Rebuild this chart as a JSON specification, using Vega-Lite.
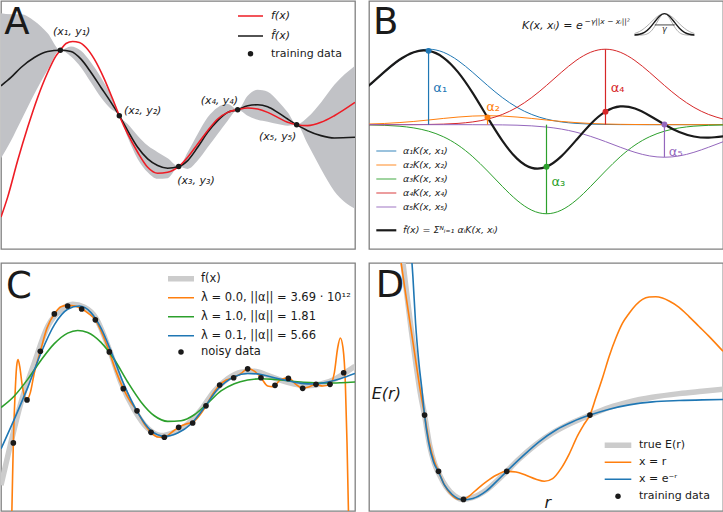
{
"$schema": "https://vega.github.io/schema/vega-lite/v6.json",
"padding": 0,
"spacing": 14,
"columns": 2,
"bounds": "flush",
"background": "white",
"config": {"view": {"stroke": "#808080", "strokeWidth": 1.3}, "font": "DejaVu Sans", "legend": {"padding": 0, "labelColor": "#1a1a1a", "labelFont": "DejaVu Sans", "titlePadding": 0}},
"resolve": {"scale": {"color": "independent", "shape": "independent", "strokeWidth": "independent", "stroke": "independent", "fill": "independent"}},
"datasets": {
"aBand": [{"x":0,"lo":37,"hi":473},{"x":30,"lo":40,"hi":420},{"x":60,"lo":40,"hi":360},{"x":100,"lo":60,"hi":280},{"x":140,"lo":97,"hi":207},{"x":178,"lo":148,"hi":148},{"x":210,"lo":137,"hi":167},{"x":240,"lo":150,"hi":200},{"x":270,"lo":185,"hi":245},{"x":300,"lo":230,"hi":290},{"x":330,"lo":285,"hi":325},{"x":355,"lo":345,"hi":345},{"x":380,"lo":370,"hi":410},{"x":410,"lo":405,"hi":475},{"x":440,"lo":435,"hi":515},{"x":470,"lo":455,"hi":535},{"x":500,"lo":473,"hi":533},{"x":533,"lo":498,"hi":498},{"x":560,"lo":455,"hi":505},{"x":590,"lo":400,"hi":480},{"x":620,"lo":350,"hi":440},{"x":650,"lo":320,"hi":400},{"x":680,"lo":310,"hi":360},{"x":710,"lo":327,"hi":327},{"x":740,"lo":285,"hi":345},{"x":770,"lo":267,"hi":357},{"x":800,"lo":273,"hi":363},{"x":830,"lo":300,"hi":370},{"x":860,"lo":335,"hi":375},{"x":887,"lo":372,"hi":372},{"x":920,"lo":350,"hi":430},{"x":960,"lo":305,"hi":505},{"x":1000,"lo":252,"hi":572},{"x":1062,"lo":195,"hi":625}],
"aLines": [{"s":"k","x":0,"y":255},{"s":"k","x":30,"y":230},{"s":"k","x":60,"y":200},{"s":"k","x":100,"y":170},{"s":"k","x":140,"y":152},{"s":"k","x":178,"y":148},{"s":"k","x":210,"y":152},{"s":"k","x":240,"y":175},{"s":"k","x":270,"y":215},{"s":"k","x":300,"y":260},{"s":"k","x":330,"y":305},{"s":"k","x":355,"y":345},{"s":"k","x":380,"y":390},{"s":"k","x":410,"y":440},{"s":"k","x":440,"y":475},{"s":"k","x":470,"y":495},{"s":"k","x":500,"y":503},{"s":"k","x":533,"y":498},{"s":"k","x":560,"y":480},{"s":"k","x":590,"y":440},{"s":"k","x":620,"y":395},{"s":"k","x":650,"y":360},{"s":"k","x":680,"y":335},{"s":"k","x":710,"y":327},{"s":"k","x":740,"y":315},{"s":"k","x":770,"y":312},{"s":"k","x":800,"y":318},{"s":"k","x":830,"y":335},{"s":"k","x":860,"y":355},{"s":"k","x":887,"y":372},{"s":"k","x":920,"y":390},{"s":"k","x":960,"y":405},{"s":"k","x":1000,"y":412},{"s":"k","x":1062,"y":410},
{"s":"r","x":0,"y":650},{"s":"r","x":20,"y":590},{"s":"r","x":50,"y":480},{"s":"r","x":80,"y":380},{"s":"r","x":110,"y":290},{"s":"r","x":140,"y":215},{"s":"r","x":165,"y":165},{"s":"r","x":178,"y":148},{"s":"r","x":195,"y":128},{"s":"r","x":215,"y":122},{"s":"r","x":235,"y":125},{"s":"r","x":255,"y":140},{"s":"r","x":280,"y":175},{"s":"r","x":310,"y":235},{"s":"r","x":335,"y":295},{"s":"r","x":355,"y":345},{"s":"r","x":380,"y":400},{"s":"r","x":410,"y":455},{"s":"r","x":440,"y":500},{"s":"r","x":470,"y":518},{"s":"r","x":500,"y":515},{"s":"r","x":533,"y":498},{"s":"r","x":560,"y":470},{"s":"r","x":590,"y":430},{"s":"r","x":620,"y":390},{"s":"r","x":650,"y":355},{"s":"r","x":680,"y":335},{"s":"r","x":710,"y":327},{"s":"r","x":740,"y":322},{"s":"r","x":770,"y":325},{"s":"r","x":800,"y":335},{"s":"r","x":830,"y":350},{"s":"r","x":860,"y":365},{"s":"r","x":887,"y":372},{"s":"r","x":920,"y":375},{"s":"r","x":960,"y":365},{"s":"r","x":1000,"y":345},{"s":"r","x":1062,"y":305}],
"aPts": [{"s":"p","x":178,"y":148},{"s":"p","x":355,"y":345},{"s":"p","x":533,"y":498},{"s":"p","x":710,"y":327},{"s":"p","x":887,"y":372}],
"bK": [{"x":-24.6,"k1":81.7,"k2":1.0,"k3":-0.3,"k4":0,"k5":0,"f":82.4},{"x":19.8,"k1":118.0,"k2":2.0,"k3":-0.8,"k4":0,"k5":0,"f":119.2},{"x":64.1,"k1":157.1,"k2":3.6,"k3":-1.9,"k4":0,"k5":0,"f":158.8},{"x":108.4,"k1":192.8,"k2":6.2,"k3":-4.5,"k4":0.1,"k5":0,"f":194.6},{"x":152.7,"k1":217.9,"k2":9.7,"k3":-9.8,"k4":0.2,"k5":0,"f":218.0},{"x":197,"k1":227,"k2":14.0,"k3":-19.6,"k4":0.6,"k5":0,"f":222.0},{"x":241.3,"k1":217.9,"k2":18.7,"k3":-36.2,"k4":1.6,"k5":0,"f":202.0},{"x":285.6,"k1":192.8,"k2":22.9,"k3":-61.5,"k4":3.8,"k5":0,"f":158.0},{"x":330,"k1":157.1,"k2":25.9,"k3":-96.5,"k4":8.3,"k5":-0.1,"f":94.7},{"x":374.3,"k1":118.0,"k2":27,"k3":-139.4,"k4":16.6,"k5":-0.3,"f":21.9},{"x":418.6,"k1":81.7,"k2":25.9,"k3":-185.5,"k4":30.6,"k5":-0.7,"f":-48.0},{"x":462.9,"k1":52.1,"k2":22.9,"k3":-227.6,"k4":52.1,"k5":-1.6,"f":-102.1},{"x":507.2,"k1":30.6,"k2":18.7,"k3":-257.3,"k4":81.7,"k5":-3.6,"f":-129.9},{"x":551.5,"k1":16.6,"k2":14.0,"k3":-268,"k4":118.0,"k5":-7.2,"f":-126.6},{"x":595.8,"k1":8.3,"k2":9.7,"k3":-257.3,"k4":157.1,"k5":-13.2,"f":-95.4},{"x":640.1,"k1":3.8,"k2":6.2,"k3":-227.6,"k4":192.8,"k5":-22.5,"f":-47.3},{"x":684.4,"k1":1.6,"k2":3.6,"k3":-185.5,"k4":217.9,"k5":-35.3,"f":2.3},{"x":728.8,"k1":0.6,"k2":2.0,"k3":-139.4,"k4":227,"k5":-51.0,"f":39.2},{"x":773.1,"k1":0.2,"k2":1.0,"k3":-96.5,"k4":217.9,"k5":-67.8,"f":54.8},{"x":817.4,"k1":0.1,"k2":0.5,"k3":-61.5,"k4":192.8,"k5":-83.2,"f":48.7},{"x":861.7,"k1":0,"k2":0.2,"k3":-36.2,"k4":157.1,"k5":-94.1,"f":27.0},{"x":906,"k1":0,"k2":0.1,"k3":-19.6,"k4":118.0,"k5":-98,"f":0.5},{"x":950.3,"k1":0,"k2":0,"k3":-9.8,"k4":81.7,"k5":-94.1,"f":-22.2},{"x":994.6,"k1":0,"k2":0,"k3":-4.5,"k4":52.1,"k5":-83.2,"f":-35.6},{"x":1038.9,"k1":0,"k2":0,"k3":-1.9,"k4":30.6,"k5":-67.8,"f":-39.1},{"x":1083.3,"k1":0,"k2":0,"k3":-0.8,"k4":16.6,"k5":-51.0,"f":-35.2}],
"bS": [{"k":"k1","x":197,"z":0,"a":227,"f":222,"t":"α₁","tx":232,"ty":110},{"k":"k2","x":374.3,"z":0,"a":27,"f":21.9,"t":"α₂","tx":391,"ty":54},{"k":"k3","x":551.5,"z":0,"a":-268,"f":-126.6,"t":"α₃","tx":587,"ty":-173},{"k":"k4","x":728.8,"z":0,"a":227,"f":39.2,"t":"α₄","tx":765,"ty":110},{"k":"k5","x":906,"z":0,"a":-98,"f":0.5,"t":"α₅","tx":940,"ty":-83}],
"bIcon": [{"x":816,"w":274.2,"m":269.7,"n":269},{"x":831,"w":280.2,"m":271.9,"n":269.2},{"x":846,"w":290.1,"m":277.8,"n":270.6},{"x":861,"w":303.5,"m":290.1,"n":277},{"x":876,"w":318.1,"m":308.4,"n":294.6},{"x":891,"w":329.6,"m":326.4,"n":320.5},{"x":906,"w":334,"m":334,"n":334},{"x":921,"w":329.6,"m":326.4,"n":320.5},{"x":936,"w":318.1,"m":308.4,"n":294.6},{"x":951,"w":303.5,"m":290.1,"n":277},{"x":966,"w":290.1,"m":277.8,"n":270.6},{"x":981,"w":280.2,"m":271.9,"n":269.2},{"x":996,"w":274.2,"m":269.7,"n":269}],
"cF": [{"s":"f","x":0,"y":690},{"s":"f","x":30,"y":560},{"s":"f","x":60,"y":440},{"s":"f","x":100,"y":320},{"s":"f","x":140,"y":210},{"s":"f","x":180,"y":160},{"s":"f","x":215,"y":143},{"s":"f","x":250,"y":152},{"s":"f","x":285,"y":185},{"s":"f","x":325,"y":280},{"s":"f","x":360,"y":380},{"s":"f","x":400,"y":462},{"s":"f","x":440,"y":518},{"s":"f","x":480,"y":540},{"s":"f","x":520,"y":530},{"s":"f","x":560,"y":505},{"s":"f","x":600,"y":462},{"s":"f","x":640,"y":405},{"s":"f","x":680,"y":368},{"s":"f","x":720,"y":348},{"s":"f","x":760,"y":345},{"s":"f","x":800,"y":358},{"s":"f","x":840,"y":373},{"s":"f","x":880,"y":384},{"s":"f","x":920,"y":389},{"s":"f","x":960,"y":384},{"s":"f","x":1000,"y":370},{"s":"f","x":1040,"y":345},{"s":"f","x":1062,"y":330}],
"cB": [{"s":"b","x":0,"y":580},{"s":"b","x":40,"y":490},{"s":"b","x":80,"y":395},{"s":"b","x":120,"y":290},{"s":"b","x":160,"y":205},{"s":"b","x":200,"y":158},{"s":"b","x":235,"y":148},{"s":"b","x":270,"y":168},{"s":"b","x":300,"y":215},{"s":"b","x":330,"y":285},{"s":"b","x":370,"y":388},{"s":"b","x":410,"y":470},{"s":"b","x":450,"y":525},{"s":"b","x":490,"y":542},{"s":"b","x":530,"y":532},{"s":"b","x":570,"y":505},{"s":"b","x":610,"y":455},{"s":"b","x":650,"y":400},{"s":"b","x":700,"y":362},{"s":"b","x":740,"y":352},{"s":"b","x":780,"y":355},{"s":"b","x":820,"y":365},{"s":"b","x":860,"y":374},{"s":"b","x":900,"y":382},{"s":"b","x":940,"y":384},{"s":"b","x":980,"y":378},{"s":"b","x":1020,"y":367},{"s":"b","x":1062,"y":352}],
"cG": [{"s":"g","x":0,"y":455},{"s":"g","x":40,"y":420},{"s":"g","x":80,"y":370},{"s":"g","x":120,"y":312},{"s":"g","x":160,"y":262},{"s":"g","x":200,"y":230},{"s":"g","x":230,"y":222},{"s":"g","x":260,"y":228},{"s":"g","x":300,"y":258},{"s":"g","x":340,"y":310},{"s":"g","x":380,"y":378},{"s":"g","x":420,"y":438},{"s":"g","x":460,"y":480},{"s":"g","x":500,"y":497},{"s":"g","x":540,"y":495},{"s":"g","x":580,"y":477},{"s":"g","x":620,"y":442},{"s":"g","x":660,"y":405},{"s":"g","x":700,"y":383},{"s":"g","x":740,"y":372},{"s":"g","x":780,"y":368},{"s":"g","x":820,"y":370},{"s":"g","x":860,"y":374},{"s":"g","x":900,"y":378},{"s":"g","x":940,"y":380},{"s":"g","x":980,"y":381},{"s":"g","x":1020,"y":380},{"s":"g","x":1062,"y":378}],
"cO": [{"s":"o","x":30,"y":900},{"s":"o","x":34,"y":700},{"s":"o","x":37,"y":562},{"s":"o","x":42,"y":420},{"s":"o","x":47,"y":330},{"s":"o","x":51,"y":310},{"s":"o","x":56,"y":330},{"s":"o","x":64,"y":390},{"s":"o","x":72,"y":425},{"s":"o","x":78,"y":432},{"s":"o","x":88,"y":410},{"s":"o","x":100,"y":350},{"s":"o","x":118,"y":285},{"s":"o","x":138,"y":215},{"s":"o","x":160,"y":172},{"s":"o","x":180,"y":150},{"s":"o","x":200,"y":146},{"s":"o","x":222,"y":148},{"s":"o","x":242,"y":157},{"s":"o","x":262,"y":170},{"s":"o","x":283,"y":190},{"s":"o","x":305,"y":235},{"s":"o","x":325,"y":287},{"s":"o","x":345,"y":345},{"s":"o","x":367,"y":398},{"s":"o","x":388,"y":437},{"s":"o","x":408,"y":465},{"s":"o","x":430,"y":505},{"s":"o","x":450,"y":530},{"s":"o","x":470,"y":544},{"s":"o","x":490,"y":545},{"s":"o","x":512,"y":530},{"s":"o","x":533,"y":515},{"s":"o","x":555,"y":505},{"s":"o","x":575,"y":500},{"s":"o","x":595,"y":480},{"s":"o","x":615,"y":450},{"s":"o","x":635,"y":415},{"s":"o","x":656,"y":387},{"s":"o","x":676,"y":372},{"s":"o","x":698,"y":365},{"s":"o","x":720,"y":352},{"s":"o","x":740,"y":338},{"s":"o","x":760,"y":345},{"s":"o","x":780,"y":365},{"s":"o","x":800,"y":390},{"s":"o","x":815,"y":392},{"s":"o","x":840,"y":370},{"s":"o","x":862,"y":365},{"s":"o","x":885,"y":385},{"s":"o","x":905,"y":397},{"s":"o","x":925,"y":392},{"s":"o","x":945,"y":385},{"s":"o","x":965,"y":390},{"s":"o","x":987,"y":385},{"s":"o","x":1000,"y":350},{"s":"o","x":1010,"y":275},{"s":"o","x":1018,"y":245},{"s":"o","x":1026,"y":275},{"s":"o","x":1033,"y":380},{"s":"o","x":1038,"y":560},{"s":"o","x":1043,"y":800}],
"cP": [{"s":"p","x":37,"y":562},{"s":"p","x":78,"y":432},{"s":"p","x":118,"y":285},{"s":"p","x":160,"y":172},{"s":"p","x":200,"y":148},{"s":"p","x":242,"y":157},{"s":"p","x":283,"y":190},{"s":"p","x":325,"y":287},{"s":"p","x":367,"y":398},{"s":"p","x":408,"y":465},{"s":"p","x":450,"y":530},{"s":"p","x":490,"y":545},{"s":"p","x":533,"y":515},{"s":"p","x":575,"y":502},{"s":"p","x":615,"y":450},{"s":"p","x":656,"y":387},{"s":"p","x":698,"y":365},{"s":"p","x":740,"y":338},{"s":"p","x":780,"y":365},{"s":"p","x":822,"y":388},{"s":"p","x":862,"y":367},{"s":"p","x":905,"y":397},{"s":"p","x":945,"y":385},{"s":"p","x":987,"y":385},{"s":"p","x":1028,"y":350}],
"dF": [{"s":"t","x":118,"y":0},{"s":"t","x":130,"y":100},{"s":"t","x":145,"y":220},{"s":"t","x":160,"y":330},{"s":"t","x":172,"y":410},{"s":"t","x":185,"y":478},{"s":"t","x":200,"y":568},{"s":"t","x":215,"y":625},{"s":"t","x":228,"y":655},{"s":"t","x":250,"y":695},{"s":"t","x":275,"y":722},{"s":"t","x":300,"y":733},{"s":"t","x":330,"y":727},{"s":"t","x":370,"y":705},{"s":"t","x":420,"y":660},{"s":"t","x":470,"y":610},{"s":"t","x":520,"y":567},{"s":"t","x":570,"y":532},{"s":"t","x":620,"y":505},{"s":"t","x":682,"y":478},{"s":"t","x":740,"y":455},{"s":"t","x":800,"y":438},{"s":"t","x":870,"y":424},{"s":"t","x":950,"y":413},{"s":"t","x":1020,"y":406},{"s":"t","x":1082,"y":400}],
"dB": [{"s":"b","x":146,"y":0},{"s":"b","x":150,"y":60},{"s":"b","x":158,"y":200},{"s":"b","x":168,"y":320},{"s":"b","x":177,"y":400},{"s":"b","x":185,"y":478},{"s":"b","x":197,"y":560},{"s":"b","x":212,"y":620},{"s":"b","x":227,"y":650},{"s":"b","x":245,"y":690},{"s":"b","x":268,"y":718},{"s":"b","x":300,"y":734},{"s":"b","x":330,"y":730},{"s":"b","x":370,"y":708},{"s":"b","x":400,"y":680},{"s":"b","x":432,"y":648},{"s":"b","x":480,"y":602},{"s":"b","x":530,"y":558},{"s":"b","x":580,"y":523},{"s":"b","x":630,"y":498},{"s":"b","x":682,"y":478},{"s":"b","x":740,"y":460},{"s":"b","x":800,"y":447},{"s":"b","x":870,"y":438},{"s":"b","x":950,"y":434},{"s":"b","x":1020,"y":432},{"s":"b","x":1082,"y":431}],
"dO": [{"s":"o","x":112,"y":0},{"s":"o","x":125,"y":90},{"s":"o","x":140,"y":190},{"s":"o","x":155,"y":290},{"s":"o","x":170,"y":390},{"s":"o","x":185,"y":478},{"s":"o","x":200,"y":565},{"s":"o","x":215,"y":620},{"s":"o","x":227,"y":648},{"s":"o","x":245,"y":690},{"s":"o","x":265,"y":718},{"s":"o","x":285,"y":732},{"s":"o","x":302,"y":733},{"s":"o","x":320,"y":722},{"s":"o","x":345,"y":700},{"s":"o","x":370,"y":680},{"s":"o","x":400,"y":660},{"s":"o","x":432,"y":648},{"s":"o","x":460,"y":650},{"s":"o","x":490,"y":660},{"s":"o","x":520,"y":672},{"s":"o","x":545,"y":678},{"s":"o","x":570,"y":670},{"s":"o","x":595,"y":640},{"s":"o","x":620,"y":595},{"s":"o","x":645,"y":540},{"s":"o","x":665,"y":505},{"s":"o","x":682,"y":478},{"s":"o","x":700,"y":425},{"s":"o","x":720,"y":365},{"s":"o","x":740,"y":300},{"s":"o","x":760,"y":245},{"s":"o","x":780,"y":200},{"s":"o","x":800,"y":170},{"s":"o","x":820,"y":145},{"s":"o","x":840,"y":128},{"s":"o","x":860,"y":121},{"s":"o","x":880,"y":120},{"s":"o","x":900,"y":124},{"s":"o","x":920,"y":133},{"s":"o","x":950,"y":152},{"s":"o","x":980,"y":180},{"s":"o","x":1010,"y":210},{"s":"o","x":1040,"y":240},{"s":"o","x":1082,"y":285}],
"dP": [{"s":"p","x":185,"y":478},{"s":"p","x":227,"y":648},{"s":"p","x":302,"y":733},{"s":"p","x":432,"y":648},{"s":"p","x":682,"y":478}]
},
"concat": [
{"width": 354, "height": 248,
 "encoding": {"x": {"field": "x", "type": "quantitative", "scale": {"domain": [0, 1062], "nice": false, "zero": false}, "axis": null},
   "y": {"field": "y", "type": "quantitative", "scale": {"domain": [0, 746], "reverse": true, "nice": false, "zero": false}, "axis": null}},
 "layer": [
  {"data": {"name": "aBand"}, "mark": {"type": "area", "color": "#c1c2c6", "clip": true, "interpolate": "monotone"},
   "encoding": {"y": {"field": "lo", "type": "quantitative", "scale": {"domain": [0, 746], "reverse": true, "nice": false, "zero": false}, "axis": null}, "y2": {"field": "hi"}}},
  {"data": {"name": "aLines"}, "mark": {"type": "line", "clip": true, "strokeWidth": 1.6, "interpolate": "monotone"},
   "encoding": {"color": {"field": "s", "type": "nominal", "sort": ["r", "k"], "scale": {"domain": ["r", "k"], "range": ["#ee1c25", "#1a1a1a"]},
     "legend": {"orient": "none", "legendX": 236, "legendY": 5, "title": null, "symbolType": "stroke", "symbolSize": 625, "symbolStrokeWidth": 1.5, "clipHeight": 20, "labelOffset": 7, "rowPadding": 0, "labelFontSize": 11, "labelFontStyle": "italic", "labelExpr": "datum.label == 'r' ? 'f(x)' : 'f̂(x)'"}}}},
  {"data": {"name": "aPts"}, "mark": {"type": "point", "filled": true, "size": 30, "opacity": 1, "color": "#1a1a1a"},
   "encoding": {"shape": {"field": "s", "type": "nominal", "scale": {"domain": ["p"], "range": ["circle"]},
     "legend": {"orient": "none", "legendX": 244, "legendY": 47.2, "title": null, "symbolSize": 30, "symbolFillColor": "#1a1a1a", "symbolStrokeColor": "#1a1a1a", "labelOffset": 15, "labelFontSize": 11, "labelExpr": "'training data'"}}}},
  {"data": {"values": [{"x": 212, "y": 92, "t": "(x₁, y₁)"}, {"x": 425, "y": 332, "t": "(x₂, y₂)"}, {"x": 585, "y": 540, "t": "(x₃, y₃)"}, {"x": 655, "y": 300, "t": "(x₄, y₄)"}, {"x": 830, "y": 410, "t": "(x₅, y₅)"}]},
   "mark": {"type": "text", "fontSize": 11, "fontStyle": "italic", "color": "#1a1a1a"}, "encoding": {"text": {"field": "t"}}},
  {"data": {"values": [{"x": 10, "y": 100, "t": "A"}]}, "mark": {"type": "text", "fontSize": 37, "align": "left", "baseline": "alphabetic", "color": "#1a1a1a"}, "encoding": {"text": {"field": "t"}}}
 ]},
{"width": 354, "height": 248,
 "encoding": {"x": {"field": "x", "type": "quantitative", "scale": {"domain": [18, 1082], "nice": false, "zero": false}, "axis": null},
   "y": {"field": "y", "type": "quantitative", "scale": {"domain": [-374, 372], "nice": false, "zero": false}, "axis": null}},
 "layer": [
  {"data": {"name": "bK"}, "transform": [{"fold": ["k1", "k2", "k3", "k4", "k5"], "as": ["key", "y"]}],
   "mark": {"type": "line", "clip": true, "strokeWidth": 1, "interpolate": "natural"},
   "encoding": {"color": {"field": "key", "type": "nominal", "scale": {"domain": ["k1", "k2", "k3", "k4", "k5"], "range": ["#1f77b4", "#ff7f0e", "#2ca02c", "#d62728", "#9467bd"]},
     "legend": {"orient": "none", "legendX": 6.3, "legendY": 143.25, "title": null, "symbolType": "stroke", "symbolSize": 400, "symbolStrokeWidth": 1.5, "symbolOpacity": 0.6, "clipHeight": 13.5, "labelOffset": 5.7, "rowPadding": 0, "labelFontSize": 9.5, "labelFontStyle": "italic",
       "labelExpr": "datum.label == 'k1' ? 'α₁K(x, x₁)' : datum.label == 'k2' ? 'α₂K(x, x₂)' : datum.label == 'k3' ? 'α₃K(x, x₃)' : datum.label == 'k4' ? 'α₄K(x, x₄)' : 'α₅K(x, x₅)'"}}}},
  {"data": {"name": "bS"}, "mark": {"type": "rule", "strokeWidth": 1.2},
   "encoding": {"y": {"field": "z", "type": "quantitative"}, "y2": {"field": "a"},
    "stroke": {"field": "k", "type": "nominal", "scale": {"domain": ["k1", "k2", "k3", "k4", "k5"], "range": ["#1f77b4", "#ff7f0e", "#2ca02c", "#d62728", "#9467bd"]}, "legend": null}}},
  {"data": {"name": "bK"}, "transform": [{"fold": ["f"], "as": ["key", "y"]}],
   "mark": {"type": "line", "clip": true, "color": "#1a1a1a", "interpolate": "natural"},
   "encoding": {"strokeWidth": {"field": "key", "type": "ordinal", "scale": {"type": "ordinal", "domain": ["f"], "range": [2.2]},
     "legend": {"orient": "none", "legendX": 5.8, "legendY": 217.8, "title": null, "symbolType": "stroke", "symbolSize": 400, "symbolStrokeColor": "#1a1a1a", "labelOffset": 5.2, "labelFontSize": 9.5, "labelFontStyle": "italic", "labelExpr": "'f̂(x) = Σᴺᵢ₌₁ αᵢK(x, xᵢ)'"}}}},
  {"data": {"name": "bS"}, "mark": {"type": "point", "filled": true, "size": 35, "opacity": 1},
   "encoding": {"y": {"field": "f", "type": "quantitative"},
    "fill": {"field": "k", "type": "nominal", "scale": {"domain": ["k1", "k2", "k3", "k4", "k5"], "range": ["#1f77b4", "#ff7f0e", "#2ca02c", "#d62728", "#9467bd"]}, "legend": null}}},
  {"data": {"name": "bS"}, "mark": {"type": "text", "fontSize": 13},
   "encoding": {"x": {"field": "tx", "type": "quantitative"}, "y": {"field": "ty", "type": "quantitative"}, "text": {"field": "t"},
    "fill": {"field": "k", "type": "nominal", "scale": {"domain": ["k1", "k2", "k3", "k4", "k5"], "range": ["#1f77b4", "#ff7f0e", "#2ca02c", "#d62728", "#9467bd"]}, "legend": null}}},
  {"data": {"values": [{"x": 478, "y": 287, "t": "K(x, xᵢ) = e"}]}, "mark": {"type": "text", "fontSize": 11, "fontStyle": "italic", "align": "left", "baseline": "alphabetic", "color": "#1a1a1a"},
   "encoding": {"text": {"field": "t"}}},
  {"data": {"values": [{"x": 666, "y": 309, "t": "−γ||x − xᵢ||²"}]}, "mark": {"type": "text", "fontSize": 7.5, "fontStyle": "italic", "align": "left", "baseline": "middle", "color": "#1a1a1a"},
   "encoding": {"text": {"field": "t"}}},
  {"data": {"name": "bIcon"}, "mark": {"type": "line", "color": "#9a9a9a", "strokeWidth": 0.8, "interpolate": "natural"},
   "encoding": {"y": {"field": "w", "type": "quantitative"}}},
  {"data": {"name": "bIcon"}, "mark": {"type": "line", "color": "#9a9a9a", "strokeWidth": 0.8, "interpolate": "natural"},
   "encoding": {"y": {"field": "n", "type": "quantitative"}}},
  {"data": {"name": "bIcon"}, "mark": {"type": "line", "color": "#1a1a1a", "strokeWidth": 1.4, "interpolate": "natural"},
   "encoding": {"y": {"field": "m", "type": "quantitative"}}},
  {"data": {"values": [{"x": 877, "x2": 937, "y": 300}]}, "mark": {"type": "rule", "color": "#1a1a1a", "strokeWidth": 0.8},
   "encoding": {"x2": {"field": "x2"}}},
  {"data": {"values": [{"x": 906, "y": 284, "t": "γ"}]}, "mark": {"type": "text", "fontSize": 8, "fontStyle": "italic", "color": "#1a1a1a"},
   "encoding": {"text": {"field": "t"}}},
  {"data": {"values": [{"x": 30, "y": 272, "t": "B"}]}, "mark": {"type": "text", "fontSize": 37, "align": "left", "baseline": "alphabetic", "color": "#1a1a1a"},
   "encoding": {"text": {"field": "t"}}}
 ]},
{"width": 354, "height": 248,
 "encoding": {"x": {"field": "x", "type": "quantitative", "scale": {"domain": [0, 1062], "nice": false, "zero": false}, "axis": null},
   "y": {"field": "y", "type": "quantitative", "scale": {"domain": [18, 768], "reverse": true, "nice": false, "zero": false}, "axis": null},
   "color": {"field": "s", "type": "nominal", "scale": {"domain": ["f", "o", "g", "b"], "range": ["#cccccc", "#ff7f0e", "#2ca02c", "#1f77b4"]},
     "legend": {"orient": "none", "legendX": 164, "legendY": 6.55, "title": null, "symbolType": "stroke", "symbolSize": 676, "clipHeight": 18.3, "labelOffset": 4, "rowPadding": 0, "labelFontSize": 11.5,
       "labelExpr": "datum.label == 'f' ? 'f(x)' : datum.label == 'o' ? 'λ = 0.0, ||α|| = 3.69 · 10¹²' : datum.label == 'g' ? 'λ = 1.0, ||α|| = 1.81' : 'λ = 0.1, ||α|| = 5.66'"}},
   "strokeWidth": {"field": "s", "type": "nominal", "scale": {"type": "ordinal", "domain": ["f", "o", "g", "b"], "range": [5.5, 1.6, 1.6, 1.6]},
     "legend": {"orient": "none", "legendX": 164, "legendY": 6.55, "title": null, "symbolType": "stroke", "symbolSize": 676, "clipHeight": 18.3, "labelOffset": 4, "rowPadding": 0, "labelFontSize": 11.5,
       "labelExpr": "datum.label == 'f' ? 'f(x)' : datum.label == 'o' ? 'λ = 0.0, ||α|| = 3.69 · 10¹²' : datum.label == 'g' ? 'λ = 1.0, ||α|| = 1.81' : 'λ = 0.1, ||α|| = 5.66'"}}},
 "layer": [
  {"data": {"name": "cF"}, "mark": {"type": "line", "clip": true, "interpolate": "monotone", "strokeCap": "butt"}},
  {"data": {"name": "cO"}, "mark": {"type": "line", "clip": true, "interpolate": "monotone"}},
  {"data": {"name": "cG"}, "mark": {"type": "line", "clip": true, "interpolate": "monotone"}},
  {"data": {"name": "cB"}, "mark": {"type": "line", "clip": true, "interpolate": "monotone"}},
  {"data": {"name": "cP"}, "mark": {"type": "point", "filled": true, "size": 32, "opacity": 1, "color": "#1a1a1a"},
   "encoding": {"color": null, "strokeWidth": null, "shape": {"field": "s", "type": "nominal", "scale": {"domain": ["p"], "range": ["circle"]},
     "legend": {"orient": "none", "legendX": 174.25, "legendY": 83.25, "title": null, "symbolSize": 30, "symbolFillColor": "#1a1a1a", "symbolStrokeColor": "#1a1a1a", "labelOffset": 14.25, "labelFontSize": 11.5, "labelExpr": "'noisy data'"}}}},
  {"data": {"values": [{"x": 15, "y": 125, "t": "C"}]}, "mark": {"type": "text", "fontSize": 37, "align": "left", "baseline": "alphabetic", "color": "#1a1a1a"}, "encoding": {"color": null, "strokeWidth": null, "text": {"field": "t"}}}
 ]},
{"width": 354, "height": 248,
 "encoding": {"x": {"field": "x", "type": "quantitative", "scale": {"domain": [18, 1082], "nice": false, "zero": false}, "axis": null},
   "y": {"field": "y", "type": "quantitative", "scale": {"domain": [18, 768], "reverse": true, "nice": false, "zero": false}, "axis": null},
   "color": {"field": "s", "type": "nominal", "scale": {"domain": ["t", "o", "b"], "range": ["#cccccc", "#ff7f0e", "#1f77b4"]},
     "legend": {"orient": "none", "legendX": 232.5, "legendY": 173.95, "title": null, "symbolType": "stroke", "symbolSize": 708, "clipHeight": 16.7, "labelOffset": 4.5, "rowPadding": 0, "labelFontSize": 11,
       "labelExpr": "datum.label == 't' ? 'true E(r)' : datum.label == 'o' ? 'x = r' : 'x = e⁻ʳ'"}},
   "strokeWidth": {"field": "s", "type": "nominal", "scale": {"type": "ordinal", "domain": ["t", "o", "b"], "range": [5.5, 1.6, 1.6]},
     "legend": {"orient": "none", "legendX": 232.5, "legendY": 173.95, "title": null, "symbolType": "stroke", "symbolSize": 708, "clipHeight": 16.7, "labelOffset": 4.5, "rowPadding": 0, "labelFontSize": 11,
       "labelExpr": "datum.label == 't' ? 'true E(r)' : datum.label == 'o' ? 'x = r' : 'x = e⁻ʳ'"}}},
 "layer": [
  {"data": {"name": "dF"}, "mark": {"type": "line", "clip": true, "interpolate": "monotone", "strokeCap": "butt"}},
  {"data": {"name": "dO"}, "mark": {"type": "line", "clip": true, "interpolate": "monotone"}},
  {"data": {"name": "dB"}, "mark": {"type": "line", "clip": true, "interpolate": "monotone"}},
  {"data": {"name": "dP"}, "mark": {"type": "point", "filled": true, "size": 32, "opacity": 1, "color": "#1a1a1a"},
   "encoding": {"color": null, "strokeWidth": null, "shape": {"field": "s", "type": "nominal", "scale": {"domain": ["p"], "range": ["circle"]},
     "legend": {"orient": "none", "legendX": 243.5, "legendY": 227.8, "title": null, "symbolSize": 30, "symbolFillColor": "#1a1a1a", "symbolStrokeColor": "#1a1a1a", "labelOffset": 15.5, "labelFontSize": 11, "labelExpr": "'training data'"}}}},
  {"data": {"values": [{"x": 70, "y": 415, "t": "E(r)"}, {"x": 555, "y": 745, "t": "r"}]}, "mark": {"type": "text", "fontSize": 16, "fontStyle": "italic", "color": "#1a1a1a"}, "encoding": {"color": null, "strokeWidth": null, "text": {"field": "t"}}},
  {"data": {"values": [{"x": 38, "y": 120, "t": "D"}]}, "mark": {"type": "text", "fontSize": 37, "align": "left", "baseline": "alphabetic", "color": "#1a1a1a"}, "encoding": {"color": null, "strokeWidth": null, "text": {"field": "t"}}}
 ]}
]
}
